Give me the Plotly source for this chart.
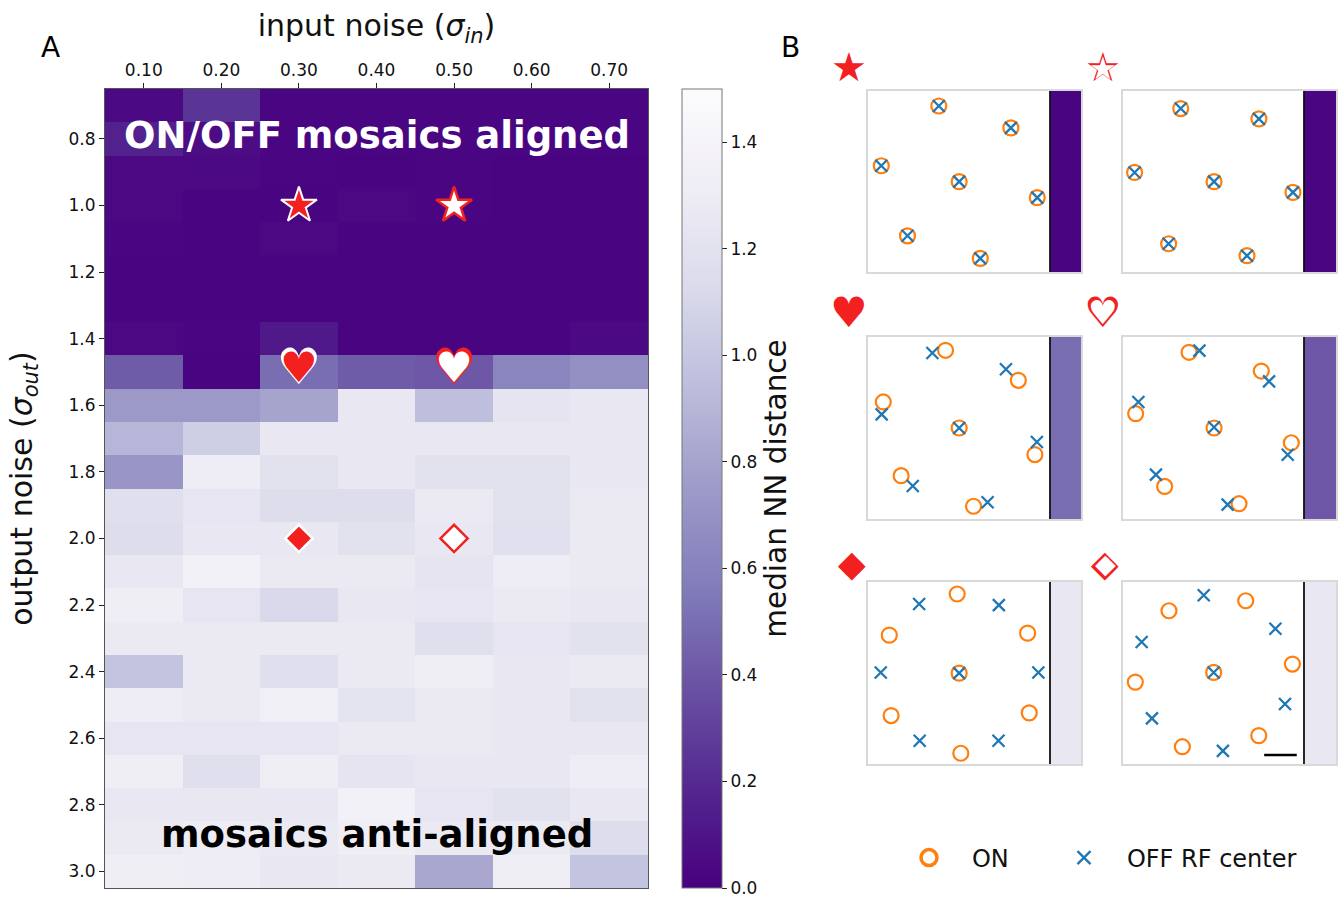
import plotly.graph_objects as go

# ---------------- data ----------------
sigma_in = [0.10, 0.20, 0.30, 0.40, 0.50, 0.60, 0.70]
sigma_in_labels = ["0.10", "0.20", "0.30", "0.40", "0.50", "0.60", "0.70"]
sigma_out = [0.7, 0.8, 0.9, 1.0, 1.1, 1.2, 1.3, 1.4, 1.5, 1.6, 1.7, 1.8,
             1.9, 2.0, 2.1, 2.2, 2.3, 2.4, 2.5, 2.6, 2.7, 2.8, 2.9, 3.0]
sigma_out_ticks = [0.8, 1.0, 1.2, 1.4, 1.6, 1.8, 2.0, 2.2, 2.4, 2.6, 2.8, 3.0]
sigma_out_labels = ["0.8", "1.0", "1.2", "1.4", "1.6", "1.8", "2.0", "2.2", "2.4", "2.6", "2.8", "3.0"]

nn_dist = [
    [0.05, 0.25, 0.03, 0.03, 0.03, 0.03, 0.03],  # 0.7
    [0.16, 0.06, 0.03, 0.03, 0.03, 0.03, 0.03],  # 0.8
    [0.04, 0.05, 0.03, 0.02, 0.03, 0.02, 0.02],  # 0.9
    [0.04, 0.02, 0.02, 0.04, 0.03, 0.02, 0.02],  # 1.0
    [0.03, 0.02, 0.04, 0.02, 0.02, 0.02, 0.02],  # 1.1
    [0.02, 0.02, 0.02, 0.02, 0.02, 0.02, 0.02],  # 1.2
    [0.02, 0.02, 0.02, 0.02, 0.02, 0.02, 0.02],  # 1.3
    [0.04, 0.03, 0.12, 0.02, 0.02, 0.02, 0.05],  # 1.4
    [0.42, 0.02, 0.50, 0.42, 0.40, 0.62, 0.68],  # 1.5
    [0.74, 0.74, 0.80, 1.25, 0.95, 1.22, 1.25],  # 1.6
    [0.90, 1.05, 1.25, 1.25, 1.25, 1.25, 1.25],  # 1.7
    [0.72, 1.30, 1.20, 1.25, 1.20, 1.20, 1.25],  # 1.8
    [1.17, 1.23, 1.15, 1.15, 1.28, 1.20, 1.28],  # 1.9
    [1.15, 1.26, 1.26, 1.20, 1.26, 1.18, 1.28],  # 2.0
    [1.25, 1.36, 1.28, 1.28, 1.22, 1.30, 1.28],  # 2.1
    [1.32, 1.23, 1.12, 1.25, 1.23, 1.28, 1.25],  # 2.2
    [1.28, 1.28, 1.28, 1.28, 1.17, 1.23, 1.20],  # 2.3
    [0.98, 1.28, 1.17, 1.28, 1.32, 1.25, 1.28],  # 2.4
    [1.30, 1.28, 1.34, 1.21, 1.28, 1.25, 1.20],  # 2.5
    [1.23, 1.23, 1.23, 1.28, 1.28, 1.25, 1.25],  # 2.6
    [1.32, 1.17, 1.32, 1.22, 1.25, 1.25, 1.30],  # 2.7
    [1.25, 1.25, 1.25, 1.36, 1.23, 1.20, 1.25],  # 2.8
    [1.28, 1.30, 1.28, 1.32, 1.28, 1.28, 1.15],  # 2.9
    [1.32, 1.30, 1.25, 1.28, 0.82, 1.32, 0.98],  # 3.0
]
cbar_ticks = [0.0, 0.2, 0.4, 0.6, 0.8, 1.0, 1.2, 1.4]

# highlighted parameter pairs (sigma_in, sigma_out)
star_pts = ([0.3, 0.5], [1.0, 1.0])
heart_pts = ([0.3, 0.5], [1.5, 1.5])
diamond_pts = ([0.3, 0.5], [2.0, 2.0])

# RF centres in example mosaics (normalised units)
p1_on_x = [0.389, 0.785, 0.073, 0.501, 0.930, 0.217, 0.617]
p1_on_y = [0.917, 0.796, 0.587, 0.499, 0.411, 0.200, 0.075]
p1_off_x = [0.389, 0.785, 0.073, 0.501, 0.930, 0.217, 0.617]
p1_off_y = [0.917, 0.796, 0.587, 0.499, 0.411, 0.200, 0.075]

p2_on_x = [0.319, 0.751, 0.064, 0.503, 0.939, 0.252, 0.685]
p2_on_y = [0.903, 0.846, 0.550, 0.499, 0.440, 0.156, 0.090]
p2_off_x = [0.319, 0.751, 0.064, 0.503, 0.939, 0.252, 0.685]
p2_off_y = [0.903, 0.846, 0.550, 0.499, 0.440, 0.156, 0.090]

p3_on_x = [0.426, 0.826, 0.084, 0.501, 0.917, 0.182, 0.580]
p3_on_y = [0.927, 0.762, 0.643, 0.500, 0.354, 0.238, 0.070]
p3_off_x = [0.354, 0.758, 0.075, 0.501, 0.928, 0.246, 0.657]
p3_off_y = [0.912, 0.823, 0.575, 0.500, 0.423, 0.181, 0.092]

p4_on_x = [0.365, 0.764, 0.070, 0.503, 0.930, 0.230, 0.641]
p4_on_y = [0.916, 0.813, 0.579, 0.500, 0.419, 0.179, 0.084]
p4_off_x = [0.422, 0.807, 0.085, 0.503, 0.910, 0.182, 0.578]
p4_off_y = [0.925, 0.756, 0.643, 0.504, 0.353, 0.244, 0.079]

p5_on_x = [0.490, 0.877, 0.117, 0.501, 0.127, 0.886, 0.510]
p5_on_y = [0.934, 0.719, 0.708, 0.499, 0.266, 0.281, 0.059]
p5_off_x = [0.281, 0.719, 0.070, 0.501, 0.936, 0.284, 0.717]
p5_off_y = [0.879, 0.873, 0.503, 0.499, 0.503, 0.128, 0.128]

p6_on_x = [0.254, 0.678, 0.068, 0.501, 0.936, 0.328, 0.750]
p6_on_y = [0.842, 0.897, 0.450, 0.503, 0.549, 0.095, 0.156]
p6_off_x = [0.446, 0.103, 0.842, 0.501, 0.160, 0.895, 0.552]
p6_off_y = [0.927, 0.670, 0.743, 0.503, 0.251, 0.330, 0.072]

scale_bar_x = [0.78, 0.96]
scale_bar_y = [0.05, 0.05]

legend_names = ["ON", "OFF RF center"]

# ---------------- styling ----------------
FONT = "DejaVu Sans"
RED = "#f2201f"
ORANGE = "#ff7f0e"
BLUE = "#1f77b4"
purples_r = [
    [0.0, "rgb(72,0,127)"], [0.125, "rgb(84,39,143)"], [0.25, "rgb(106,81,163)"],
    [0.375, "rgb(128,125,186)"], [0.5, "rgb(158,154,200)"], [0.625, "rgb(188,189,220)"],
    [0.75, "rgb(218,218,235)"], [0.875, "rgb(239,237,245)"], [1.0, "rgb(252,251,253)"],
]
ZMIN, ZMAX = 0.0, 1.5
W, H = 1344, 897


def px_x(a, b):
    return [a / W, b / W]


def px_y(top, bottom):
    return [1 - bottom / H, 1 - top / H]


fig = go.Figure()

# ---------------- panel A ----------------
fig.add_trace(go.Heatmap(
    x=sigma_in, y=sigma_out, z=nn_dist, colorscale=purples_r, zmin=ZMIN, zmax=ZMAX,
    xaxis="x", yaxis="y", showlegend=False,
    colorbar=dict(
        x=682 / W, xanchor="left", y=1 - 488.5 / H, yanchor="middle",
        len=819, lenmode="pixels", thickness=40, thicknessmode="pixels",
        xpad=0, ypad=10,
        outlinewidth=1, outlinecolor="#777",
        tickmode="array", tickvals=cbar_ticks, ticktext=[f"{t:.1f}" for t in cbar_ticks],
        ticks="outside", ticklen=5, tickcolor="#222", ticklabeloverflow="allow",
        tickfont=dict(family=FONT, size=17, color="#111"),
        title=dict(text="median NN distance", side="right",
                   font=dict(family=FONT, size=29.5, color="#111")),
    ),
))

# stars
fig.add_trace(go.Scatter(x=star_pts[0][:1], y=star_pts[1][:1], mode="markers", showlegend=False,
                         xaxis="x", yaxis="y",
                         marker=dict(symbol="star", size=27, color=RED, line=dict(color="white", width=2))))
fig.add_trace(go.Scatter(x=star_pts[0][1:], y=star_pts[1][1:], mode="markers", showlegend=False,
                         xaxis="x", yaxis="y",
                         marker=dict(symbol="star", size=27, color="white", line=dict(color=RED, width=2.5))))
# hearts (layered glyphs: outline + fill)
fig.add_trace(go.Scatter(x=heart_pts[0], y=heart_pts[1], mode="text", text=["♥", "♥"], showlegend=False,
                         xaxis="x", yaxis="y", textposition="middle center",
                         textfont=dict(family=FONT, size=50, color=["white", RED])))
fig.add_trace(go.Scatter(x=heart_pts[0], y=heart_pts[1], mode="text", text=["♥", "♥"], showlegend=False,
                         xaxis="x", yaxis="y", textposition="middle center",
                         textfont=dict(family=FONT, size=42, color=[RED, "white"])))
# diamonds
fig.add_trace(go.Scatter(x=diamond_pts[0][:1], y=diamond_pts[1][:1], mode="markers", showlegend=False,
                         xaxis="x", yaxis="y",
                         marker=dict(symbol="diamond", size=21, color=RED, line=dict(color="white", width=2.5))))
fig.add_trace(go.Scatter(x=diamond_pts[0][1:], y=diamond_pts[1][1:], mode="markers", showlegend=False,
                         xaxis="x", yaxis="y",
                         marker=dict(symbol="diamond", size=21, color="white", line=dict(color=RED, width=2.5))))

layout_axes = dict(
    xaxis=dict(domain=px_x(105, 648), anchor="y", side="top", range=[0.05, 0.75],
               tickmode="array", tickvals=sigma_in, ticktext=sigma_in_labels,
               ticks="outside", ticklen=5, tickcolor="#222", showgrid=False, zeroline=False,
               showline=True, mirror=True, linecolor="#555", linewidth=1,
               tickfont=dict(family=FONT, size=17, color="#111"),
               title=dict(text="input noise (<i>σ<sub>in</sub></i>)", standoff=14,
                          font=dict(family=FONT, size=30, color="#111"))),
    yaxis=dict(domain=px_y(89, 888), anchor="x", range=[3.05, 0.65],
               tickmode="array", tickvals=sigma_out_ticks, ticktext=sigma_out_labels,
               ticks="outside", ticklen=5, tickcolor="#222", showgrid=False, zeroline=False,
               showline=True, mirror=True, linecolor="#555", linewidth=1,
               tickfont=dict(family=FONT, size=17, color="#111"),
               title=dict(text="output noise (<i>σ<sub>out</sub></i>)", standoff=27,
                          font=dict(family=FONT, size=30, color="#111"))),
)

# ---------------- panel B ----------------
panels = [
    (p1_on_x, p1_on_y, p1_off_x, p1_off_y, 0.3, 1.0),
    (p2_on_x, p2_on_y, p2_off_x, p2_off_y, 0.5, 1.0),
    (p3_on_x, p3_on_y, p3_off_x, p3_off_y, 0.3, 1.5),
    (p4_on_x, p4_on_y, p4_off_x, p4_off_y, 0.5, 1.5),
    (p5_on_x, p5_on_y, p5_off_x, p5_off_y, 0.3, 2.0),
    (p6_on_x, p6_on_y, p6_off_x, p6_off_y, 0.5, 2.0),
]
col_px = [(868, 1050, 1081), (1123, 1304, 1336)]
row_px = [(91, 272), (337, 519), (582, 764)]
BORDER = "#d9d9d9"
shapes = []
for k, (onx, ony, offx, offy, s_in, s_out) in enumerate(panels):
    r, c = divmod(k, 2)
    x0, xm, x1 = col_px[c]
    top, bot = row_px[r]
    ia = 2 + k          # scatter axes index
    ib = 8 + k          # strip axes index
    xa, ya, xb, yb = f"x{ia}", f"y{ia}", f"x{ib}", f"y{ib}"
    fig.add_trace(go.Scatter(x=onx, y=ony, mode="markers", xaxis=xa, yaxis=ya, name=legend_names[0],
                             showlegend=False, cliponaxis=False,
                             marker=dict(symbol="circle-open", size=15, color=ORANGE, line=dict(width=2.2))))
    fig.add_trace(go.Scatter(x=offx, y=offy, mode="markers", xaxis=xa, yaxis=ya, name=legend_names[1],
                             showlegend=False, cliponaxis=False,
                             marker=dict(symbol="x-thin-open", size=12, color=BLUE, line=dict(width=2.3))))
    val = nn_dist[sigma_out.index(s_out)][sigma_in.index(s_in)]
    fig.add_trace(go.Heatmap(z=[[val]], x=[0], y=[0], xaxis=xb, yaxis=yb, colorscale=purples_r,
                             zmin=ZMIN, zmax=ZMAX, showscale=False, hoverinfo="skip"))
    layout_axes[f"xaxis{ia}"] = dict(domain=px_x(x0, xm), anchor=ya, range=[0, 1],
                                     showticklabels=False, ticks="", showgrid=False, zeroline=False,
                                     showline=True, mirror=True, linecolor=BORDER, linewidth=1.5)
    layout_axes[f"yaxis{ia}"] = dict(domain=px_y(top, bot), anchor=xa, range=[0, 1],
                                     showticklabels=False, ticks="", showgrid=False, zeroline=False,
                                     showline=True, mirror=False, linecolor=BORDER, linewidth=1.5)
    layout_axes[f"xaxis{ib}"] = dict(domain=px_x(xm, x1), anchor=yb, range=[-0.5, 0.5],
                                     showticklabels=False, ticks="", showgrid=False, zeroline=False,
                                     showline=True, mirror=True, linecolor=BORDER, linewidth=1.5)
    layout_axes[f"yaxis{ib}"] = dict(domain=px_y(top, bot), anchor=xb, range=[-0.5, 0.5], side="right",
                                     showticklabels=False, ticks="", showgrid=False, zeroline=False,
                                     showline=True, linecolor=BORDER, linewidth=1.5)
    shapes.append(dict(type="line", xref=f"{xa} domain", yref=f"{ya} domain", x0=1, x1=1, y0=0, y1=1,
                       line=dict(color="#111", width=1.8), layer="above"))

# scale bar in last example
fig.add_trace(go.Scatter(x=scale_bar_x, y=scale_bar_y, mode="lines", xaxis="x7", yaxis="y7",
                         showlegend=False, line=dict(color="black", width=2.5)))

# legend entries (no data; legend styling only)
fig.add_trace(go.Scatter(x=[None], y=[None], mode="markers", xaxis="x2", yaxis="y2",
                         name="\u00a0\u00a0\u00a0" + legend_names[0], legend="legend",
                         marker=dict(symbol="circle-open", size=16, color=ORANGE, line=dict(width=3.5))))
fig.add_trace(go.Scatter(x=[None], y=[None], mode="markers", xaxis="x2", yaxis="y2",
                         name="\u00a0\u00a0\u00a0" + legend_names[1], legend="legend2",
                         marker=dict(symbol="x-thin-open", size=13, color=BLUE, line=dict(width=2.3))))

# icon labels for panel B (glyph layers: red shape, white inner for open icons)
icons = [("★", 849, 67, 40, False), ("★", 1103, 67, 40, True),
         ("♥", 849, 312, 42, False), ("♥", 1103, 312, 42, True),
         ("◆", 852, 563, 36, False), ("◆", 1105, 563, 36, True)]
annotations = []
for t, ax_, ay_, sz, hollow in icons:
    annotations.append(dict(text=t, x=ax_ / W, y=1 - ay_ / H, xref="paper", yref="paper",
                            xanchor="center", yanchor="middle", showarrow=False,
                            font=dict(family=FONT, size=sz, color=RED)))
    if hollow:
        annotations.append(dict(text=t, x=ax_ / W, y=1 - ay_ / H, xref="paper", yref="paper",
                                xanchor="center", yanchor="middle", showarrow=False,
                                yshift=-1 if t == "★" else 0,
                                font=dict(family=FONT, size=sz - 9, color="white")))

annotations += [
    dict(text="<b>ON/OFF mosaics aligned</b>", x=0.4, y=0.79, xref="x", yref="y", showarrow=False,
         xanchor="center", yanchor="middle", font=dict(family=FONT, size=37, color="white")),
    dict(text="<b>mosaics anti-aligned</b>", x=0.4, y=2.89, xref="x", yref="y", showarrow=False,
         xanchor="center", yanchor="middle", font=dict(family=FONT, size=37, color="black")),
    dict(text="A", x=50 / W, y=1 - 48 / H, xref="paper", yref="paper", showarrow=False,
         xanchor="center", yanchor="middle", font=dict(family=FONT, size=28, color="black")),
    dict(text="B", x=790 / W, y=1 - 48 / H, xref="paper", yref="paper", showarrow=False,
         xanchor="center", yanchor="middle", font=dict(family=FONT, size=28, color="black")),
]

legend_common = dict(orientation="h", y=1 - 858 / H, xanchor="left", yanchor="middle",
                     font=dict(family=FONT, size=24, color="#111"), bgcolor="rgba(0,0,0,0)")
fig.update_layout(
    width=W, height=H, margin=dict(l=0, r=0, t=0, b=0, autoexpand=False),
    paper_bgcolor="white", plot_bgcolor="white",
    font=dict(family=FONT, color="#111"),
    showlegend=True,
    legend=dict(x=909 / W, **legend_common),
    legend2=dict(x=1064 / W, **legend_common),
    shapes=shapes, annotations=annotations,
    **layout_axes,
)

fig.write_html("out.html")
